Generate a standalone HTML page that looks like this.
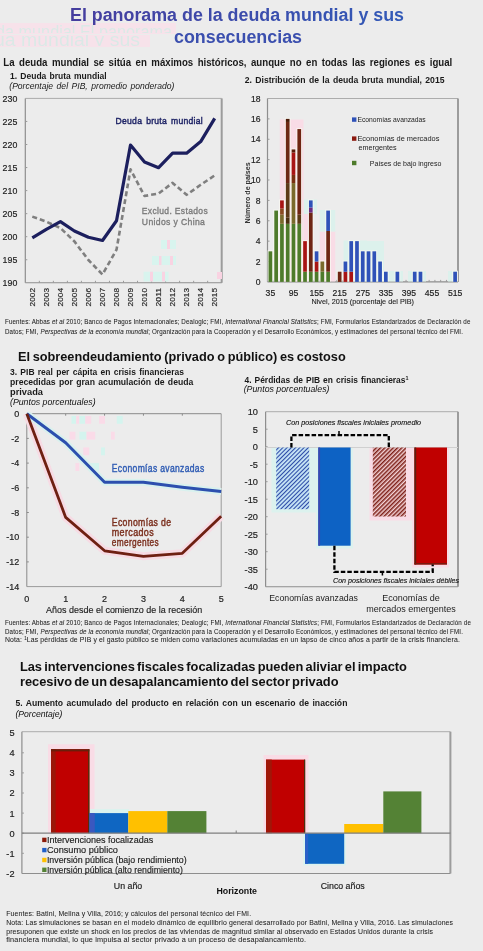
<!DOCTYPE html><html><head><meta charset="utf-8"><style>
html,body{margin:0;padding:0;background:#ececec;width:483px;height:951px;overflow:hidden}
svg{display:block;font-family:"Liberation Sans", sans-serif;filter:blur(0.3px)}
</style></head><body>
<svg width="483" height="951" viewBox="0 0 483 951">
<defs>
<linearGradient id="tg" x1="0" x2="1" y1="0" y2="0"><stop offset="0" stop-color="#463d9e"/><stop offset="1" stop-color="#325ab8"/></linearGradient>
<pattern id="hb" patternUnits="userSpaceOnUse" width="3" height="3" patternTransform="rotate(45)"><rect width="3" height="3" fill="#c6e4f6"/><rect width="1.05" height="3" fill="#2a48a6"/></pattern>
<pattern id="hr" patternUnits="userSpaceOnUse" width="3" height="3" patternTransform="rotate(45)"><rect width="3" height="3" fill="#f3d2d6"/><rect width="1.5" height="3" fill="#7e2018"/></pattern>
</defs>
<rect width="483" height="951" fill="#ececec"/>

<clipPath id="gc1"><rect x="0" y="24" width="180" height="9"/></clipPath><clipPath id="gc2"><rect x="0" y="35" width="180" height="11"/></clipPath>
<rect x="0" y="23" width="176" height="11" fill="#f7e2ea"/><rect x="0" y="35" width="150" height="12" fill="#f7e2ea"/>
<g clip-path="url(#gc1)" opacity="0.6">
<text x="-4" y="38" font-size="17.5" fill="#c8efe5" font-weight="normal" font-style="normal" text-anchor="start" textLength="176" lengthAdjust="spacingAndGlyphs" >da mundial El panorama</text>
</g><g clip-path="url(#gc2)" opacity="0.6">
<text x="-6" y="46" font-size="17.5" fill="#c8efe5" font-weight="normal" font-style="normal" text-anchor="start" textLength="146" lengthAdjust="spacingAndGlyphs" >ua mundial y sus</text>
</g>
<text x="70" y="21" font-size="17.5" fill="url(#tg)" font-weight="bold" font-style="normal" text-anchor="start" textLength="334" lengthAdjust="spacingAndGlyphs" >El panorama de la deuda mundial y sus</text>
<text x="174" y="42.5" font-size="17.5" fill="#3b4fae" font-weight="bold" font-style="normal" text-anchor="start" textLength="128" lengthAdjust="spacingAndGlyphs" >consecuencias</text>
<text x="3.3" y="65.6" font-size="10" fill="#1a1a1a" font-weight="bold" font-style="normal" text-anchor="start" textLength="449" lengthAdjust="spacingAndGlyphs" word-spacing="1.8">La deuda mundial se sitúa en máximos históricos, aunque no en todas las regiones es igual</text>
<text x="10" y="79.1" font-size="9.4" fill="#1a1a1a" font-weight="bold" font-style="normal" text-anchor="start" textLength="96.6" lengthAdjust="spacingAndGlyphs" word-spacing="1">1. Deuda bruta mundial</text>
<text x="9.3" y="89.3" font-size="9" fill="#1a1a1a" font-weight="normal" font-style="italic" text-anchor="start" textLength="165" lengthAdjust="spacingAndGlyphs" word-spacing="1.2">(Porcentaje del PIB, promedio ponderado)</text>
<line x1="25.3" y1="98.4" x2="221.7" y2="98.4" stroke="#acacac" stroke-width="1"/>
<line x1="221.7" y1="98.4" x2="221.7" y2="282.8" stroke="#9c9c9c" stroke-width="2"/>
<line x1="25.3" y1="282.8" x2="221.7" y2="282.8" stroke="#8e8e8e" stroke-width="1.1"/>
<line x1="25.3" y1="98.4" x2="25.3" y2="282.8" stroke="#8e8e8e" stroke-width="1.2"/>
<text x="17.3" y="102.0" font-size="8.8" fill="#222" font-weight="normal" font-style="normal" text-anchor="end" stroke="#222" stroke-width="0.18">230</text>
<text x="17.3" y="125.05" font-size="8.8" fill="#222" font-weight="normal" font-style="normal" text-anchor="end" stroke="#222" stroke-width="0.18">225</text>
<line x1="25.3" y1="121.45" x2="27.3" y2="121.45" stroke="#9a9a9a" stroke-width="1"/>
<text x="17.3" y="148.1" font-size="8.8" fill="#222" font-weight="normal" font-style="normal" text-anchor="end" stroke="#222" stroke-width="0.18">220</text>
<line x1="25.3" y1="144.5" x2="27.3" y2="144.5" stroke="#9a9a9a" stroke-width="1"/>
<text x="17.3" y="171.15" font-size="8.8" fill="#222" font-weight="normal" font-style="normal" text-anchor="end" stroke="#222" stroke-width="0.18">215</text>
<line x1="25.3" y1="167.55" x2="27.3" y2="167.55" stroke="#9a9a9a" stroke-width="1"/>
<text x="17.3" y="194.20000000000002" font-size="8.8" fill="#222" font-weight="normal" font-style="normal" text-anchor="end" stroke="#222" stroke-width="0.18">210</text>
<line x1="25.3" y1="190.60000000000002" x2="27.3" y2="190.60000000000002" stroke="#9a9a9a" stroke-width="1"/>
<text x="17.3" y="217.25" font-size="8.8" fill="#222" font-weight="normal" font-style="normal" text-anchor="end" stroke="#222" stroke-width="0.18">205</text>
<line x1="25.3" y1="213.65" x2="27.3" y2="213.65" stroke="#9a9a9a" stroke-width="1"/>
<text x="17.3" y="240.3" font-size="8.8" fill="#222" font-weight="normal" font-style="normal" text-anchor="end" stroke="#222" stroke-width="0.18">200</text>
<line x1="25.3" y1="236.70000000000002" x2="27.3" y2="236.70000000000002" stroke="#9a9a9a" stroke-width="1"/>
<text x="17.3" y="263.35" font-size="8.8" fill="#222" font-weight="normal" font-style="normal" text-anchor="end" stroke="#222" stroke-width="0.18">195</text>
<line x1="25.3" y1="259.75" x2="27.3" y2="259.75" stroke="#9a9a9a" stroke-width="1"/>
<text x="17.3" y="286.40000000000003" font-size="8.8" fill="#222" font-weight="normal" font-style="normal" text-anchor="end" stroke="#222" stroke-width="0.18">190</text>
<line x1="39.32857142857143" y1="282.8" x2="39.32857142857143" y2="280.8" stroke="#9a9a9a" stroke-width="1"/>
<line x1="53.357142857142854" y1="282.8" x2="53.357142857142854" y2="280.8" stroke="#9a9a9a" stroke-width="1"/>
<line x1="67.38571428571429" y1="282.8" x2="67.38571428571429" y2="280.8" stroke="#9a9a9a" stroke-width="1"/>
<line x1="81.41428571428571" y1="282.8" x2="81.41428571428571" y2="280.8" stroke="#9a9a9a" stroke-width="1"/>
<line x1="95.44285714285714" y1="282.8" x2="95.44285714285714" y2="280.8" stroke="#9a9a9a" stroke-width="1"/>
<line x1="109.47142857142856" y1="282.8" x2="109.47142857142856" y2="280.8" stroke="#9a9a9a" stroke-width="1"/>
<line x1="123.49999999999999" y1="282.8" x2="123.49999999999999" y2="280.8" stroke="#9a9a9a" stroke-width="1"/>
<line x1="137.5285714285714" y1="282.8" x2="137.5285714285714" y2="280.8" stroke="#9a9a9a" stroke-width="1"/>
<line x1="151.55714285714285" y1="282.8" x2="151.55714285714285" y2="280.8" stroke="#9a9a9a" stroke-width="1"/>
<line x1="165.5857142857143" y1="282.8" x2="165.5857142857143" y2="280.8" stroke="#9a9a9a" stroke-width="1"/>
<line x1="179.6142857142857" y1="282.8" x2="179.6142857142857" y2="280.8" stroke="#9a9a9a" stroke-width="1"/>
<line x1="193.64285714285714" y1="282.8" x2="193.64285714285714" y2="280.8" stroke="#9a9a9a" stroke-width="1"/>
<line x1="207.67142857142855" y1="282.8" x2="207.67142857142855" y2="280.8" stroke="#9a9a9a" stroke-width="1"/>
<text transform="translate(34.614285714285714,288) rotate(-90)" font-size="8.0" fill="#222" stroke="#222" stroke-width="0.15" text-anchor="end" textLength="18.4" lengthAdjust="spacingAndGlyphs">2002</text>
<text transform="translate(48.64285714285714,288) rotate(-90)" font-size="8.0" fill="#222" stroke="#222" stroke-width="0.15" text-anchor="end" textLength="18.4" lengthAdjust="spacingAndGlyphs">2003</text>
<text transform="translate(62.671428571428564,288) rotate(-90)" font-size="8.0" fill="#222" stroke="#222" stroke-width="0.15" text-anchor="end" textLength="18.4" lengthAdjust="spacingAndGlyphs">2004</text>
<text transform="translate(76.69999999999999,288) rotate(-90)" font-size="8.0" fill="#222" stroke="#222" stroke-width="0.15" text-anchor="end" textLength="18.4" lengthAdjust="spacingAndGlyphs">2005</text>
<text transform="translate(90.72857142857141,288) rotate(-90)" font-size="8.0" fill="#222" stroke="#222" stroke-width="0.15" text-anchor="end" textLength="18.4" lengthAdjust="spacingAndGlyphs">2006</text>
<text transform="translate(104.75714285714284,288) rotate(-90)" font-size="8.0" fill="#222" stroke="#222" stroke-width="0.15" text-anchor="end" textLength="18.4" lengthAdjust="spacingAndGlyphs">2007</text>
<text transform="translate(118.78571428571426,288) rotate(-90)" font-size="8.0" fill="#222" stroke="#222" stroke-width="0.15" text-anchor="end" textLength="18.4" lengthAdjust="spacingAndGlyphs">2008</text>
<text transform="translate(132.81428571428572,288) rotate(-90)" font-size="8.0" fill="#222" stroke="#222" stroke-width="0.15" text-anchor="end" textLength="18.4" lengthAdjust="spacingAndGlyphs">2009</text>
<text transform="translate(146.84285714285716,288) rotate(-90)" font-size="8.0" fill="#222" stroke="#222" stroke-width="0.15" text-anchor="end" textLength="18.4" lengthAdjust="spacingAndGlyphs">2010</text>
<text transform="translate(160.87142857142857,288) rotate(-90)" font-size="8.0" fill="#222" stroke="#222" stroke-width="0.15" text-anchor="end" textLength="18.4" lengthAdjust="spacingAndGlyphs">2011</text>
<text transform="translate(174.9,288) rotate(-90)" font-size="8.0" fill="#222" stroke="#222" stroke-width="0.15" text-anchor="end" textLength="18.4" lengthAdjust="spacingAndGlyphs">2012</text>
<text transform="translate(188.92857142857142,288) rotate(-90)" font-size="8.0" fill="#222" stroke="#222" stroke-width="0.15" text-anchor="end" textLength="18.4" lengthAdjust="spacingAndGlyphs">2013</text>
<text transform="translate(202.95714285714286,288) rotate(-90)" font-size="8.0" fill="#222" stroke="#222" stroke-width="0.15" text-anchor="end" textLength="18.4" lengthAdjust="spacingAndGlyphs">2014</text>
<text transform="translate(216.9857142857143,288) rotate(-90)" font-size="8.0" fill="#222" stroke="#222" stroke-width="0.15" text-anchor="end" textLength="18.4" lengthAdjust="spacingAndGlyphs">2015</text>
<rect x="161" y="240" width="15.0" height="9.0" fill="#d8f4ee"/>
<rect x="167" y="240" width="3.0" height="9.0" fill="#f9d3e2"/>
<rect x="152" y="256" width="24.0" height="9.0" fill="#d8f4ee"/>
<rect x="159" y="256" width="2.5" height="9.0" fill="#f9d3e2"/>
<rect x="170" y="256" width="3.0" height="9.0" fill="#f9d3e2"/>
<rect x="143.6" y="271.7" width="24.9" height="9.8" fill="#d8f4ee"/>
<rect x="150" y="271.7" width="3.0" height="9.8" fill="#f9d3e2"/>
<rect x="162" y="271.7" width="3.0" height="9.8" fill="#f9d3e2"/>
<rect x="217" y="272" width="5.0" height="7.0" fill="#f9d3e2"/>
<polyline points="32.3,216.6 46.3,221.7 60.4,228 74.4,241.4 88.4,260 102.5,274.5 116.5,249.7 130.5,169.4 144.5,196 158.6,193.5 172.6,182.9 186.6,194.8 200.7,184.8 214.7,175.4" fill="none" stroke="#7f7f7f" stroke-width="2.6" stroke-dasharray="5,3" stroke-linejoin="round"/>
<polyline points="32.3,237.9 46.3,229.4 60.4,221.7 74.4,231 88.4,237.3 102.5,240.5 116.5,220.8 130.5,145 144.5,161.9 158.6,167.7 172.6,153.2 186.6,153.2 200.7,141.6 214.7,118.4" fill="none" stroke="#1c1f5e" stroke-width="3.2" stroke-linejoin="round"/>
<text x="115.6" y="124" font-size="9.6" fill="#1f2466" font-weight="normal" font-style="normal" text-anchor="start" textLength="87.3" lengthAdjust="spacingAndGlyphs" stroke="#1f2466" stroke-width="0.45" letter-spacing="0.3" word-spacing="1.5">Deuda bruta mundial</text>
<text x="141.8" y="214.2" font-size="9.8" fill="#7a7a7a" font-weight="normal" font-style="normal" text-anchor="start" textLength="66.2" lengthAdjust="spacingAndGlyphs" stroke="#7a7a7a" stroke-width="0.35" letter-spacing="0.4">Exclud. Estados</text>
<text x="141.8" y="224.6" font-size="9.8" fill="#7a7a7a" font-weight="normal" font-style="normal" text-anchor="start" textLength="63.4" lengthAdjust="spacingAndGlyphs" stroke="#7a7a7a" stroke-width="0.35" letter-spacing="0.4">Unidos y China</text>
<text x="244.8" y="82.8" font-size="9.3" fill="#1a1a1a" font-weight="bold" font-style="normal" text-anchor="start" textLength="199.7" lengthAdjust="spacingAndGlyphs" word-spacing="1">2. Distribución de la deuda bruta mundial, 2015</text>
<line x1="267.5" y1="98.5" x2="458" y2="98.5" stroke="#acacac" stroke-width="1"/>
<line x1="458" y1="98.5" x2="458" y2="281.9" stroke="#9c9c9c" stroke-width="2"/>
<line x1="267.5" y1="281.9" x2="458" y2="281.9" stroke="#8e8e8e" stroke-width="1.1"/>
<line x1="267.5" y1="98.5" x2="267.5" y2="281.9" stroke="#8e8e8e" stroke-width="1.2"/>
<text x="260.5" y="285.09999999999997" font-size="8.6" fill="#222" font-weight="normal" font-style="normal" text-anchor="end" stroke="#222" stroke-width="0.18">0</text>
<text x="260.5" y="264.7222222222222" font-size="8.6" fill="#222" font-weight="normal" font-style="normal" text-anchor="end" stroke="#222" stroke-width="0.18">2</text>
<line x1="267.5" y1="261.5222222222222" x2="269.5" y2="261.5222222222222" stroke="#9a9a9a" stroke-width="1"/>
<text x="260.5" y="244.3444444444444" font-size="8.6" fill="#222" font-weight="normal" font-style="normal" text-anchor="end" stroke="#222" stroke-width="0.18">4</text>
<line x1="267.5" y1="241.14444444444442" x2="269.5" y2="241.14444444444442" stroke="#9a9a9a" stroke-width="1"/>
<text x="260.5" y="223.96666666666664" font-size="8.6" fill="#222" font-weight="normal" font-style="normal" text-anchor="end" stroke="#222" stroke-width="0.18">6</text>
<line x1="267.5" y1="220.76666666666665" x2="269.5" y2="220.76666666666665" stroke="#9a9a9a" stroke-width="1"/>
<text x="260.5" y="203.58888888888885" font-size="8.6" fill="#222" font-weight="normal" font-style="normal" text-anchor="end" stroke="#222" stroke-width="0.18">8</text>
<line x1="267.5" y1="200.38888888888886" x2="269.5" y2="200.38888888888886" stroke="#9a9a9a" stroke-width="1"/>
<text x="260.5" y="183.21111111111108" font-size="8.6" fill="#222" font-weight="normal" font-style="normal" text-anchor="end" stroke="#222" stroke-width="0.18">10</text>
<line x1="267.5" y1="180.0111111111111" x2="269.5" y2="180.0111111111111" stroke="#9a9a9a" stroke-width="1"/>
<text x="260.5" y="162.83333333333331" font-size="8.6" fill="#222" font-weight="normal" font-style="normal" text-anchor="end" stroke="#222" stroke-width="0.18">12</text>
<line x1="267.5" y1="159.63333333333333" x2="269.5" y2="159.63333333333333" stroke="#9a9a9a" stroke-width="1"/>
<text x="260.5" y="142.45555555555552" font-size="8.6" fill="#222" font-weight="normal" font-style="normal" text-anchor="end" stroke="#222" stroke-width="0.18">14</text>
<line x1="267.5" y1="139.25555555555553" x2="269.5" y2="139.25555555555553" stroke="#9a9a9a" stroke-width="1"/>
<text x="260.5" y="122.07777777777777" font-size="8.6" fill="#222" font-weight="normal" font-style="normal" text-anchor="end" stroke="#222" stroke-width="0.18">16</text>
<line x1="267.5" y1="118.87777777777777" x2="269.5" y2="118.87777777777777" stroke="#9a9a9a" stroke-width="1"/>
<text x="260.5" y="101.7" font-size="8.6" fill="#222" font-weight="normal" font-style="normal" text-anchor="end" stroke="#222" stroke-width="0.18">18</text>
<line x1="273.27" y1="281.9" x2="273.27" y2="279.9" stroke="#9a9a9a" stroke-width="1"/>
<line x1="279.05" y1="281.9" x2="279.05" y2="279.9" stroke="#9a9a9a" stroke-width="1"/>
<line x1="284.82" y1="281.9" x2="284.82" y2="279.9" stroke="#9a9a9a" stroke-width="1"/>
<line x1="290.59" y1="281.9" x2="290.59" y2="279.9" stroke="#9a9a9a" stroke-width="1"/>
<line x1="296.36" y1="281.9" x2="296.36" y2="279.9" stroke="#9a9a9a" stroke-width="1"/>
<line x1="302.14" y1="281.9" x2="302.14" y2="279.9" stroke="#9a9a9a" stroke-width="1"/>
<line x1="307.91" y1="281.9" x2="307.91" y2="279.9" stroke="#9a9a9a" stroke-width="1"/>
<line x1="313.68" y1="281.9" x2="313.68" y2="279.9" stroke="#9a9a9a" stroke-width="1"/>
<line x1="319.45" y1="281.9" x2="319.45" y2="279.9" stroke="#9a9a9a" stroke-width="1"/>
<line x1="325.23" y1="281.9" x2="325.23" y2="279.9" stroke="#9a9a9a" stroke-width="1"/>
<line x1="331.00" y1="281.9" x2="331.00" y2="279.9" stroke="#9a9a9a" stroke-width="1"/>
<line x1="336.77" y1="281.9" x2="336.77" y2="279.9" stroke="#9a9a9a" stroke-width="1"/>
<line x1="342.55" y1="281.9" x2="342.55" y2="279.9" stroke="#9a9a9a" stroke-width="1"/>
<line x1="348.32" y1="281.9" x2="348.32" y2="279.9" stroke="#9a9a9a" stroke-width="1"/>
<line x1="354.09" y1="281.9" x2="354.09" y2="279.9" stroke="#9a9a9a" stroke-width="1"/>
<line x1="359.86" y1="281.9" x2="359.86" y2="279.9" stroke="#9a9a9a" stroke-width="1"/>
<line x1="365.64" y1="281.9" x2="365.64" y2="279.9" stroke="#9a9a9a" stroke-width="1"/>
<line x1="371.41" y1="281.9" x2="371.41" y2="279.9" stroke="#9a9a9a" stroke-width="1"/>
<line x1="377.18" y1="281.9" x2="377.18" y2="279.9" stroke="#9a9a9a" stroke-width="1"/>
<line x1="382.95" y1="281.9" x2="382.95" y2="279.9" stroke="#9a9a9a" stroke-width="1"/>
<line x1="388.73" y1="281.9" x2="388.73" y2="279.9" stroke="#9a9a9a" stroke-width="1"/>
<line x1="394.50" y1="281.9" x2="394.50" y2="279.9" stroke="#9a9a9a" stroke-width="1"/>
<line x1="400.27" y1="281.9" x2="400.27" y2="279.9" stroke="#9a9a9a" stroke-width="1"/>
<line x1="406.05" y1="281.9" x2="406.05" y2="279.9" stroke="#9a9a9a" stroke-width="1"/>
<line x1="411.82" y1="281.9" x2="411.82" y2="279.9" stroke="#9a9a9a" stroke-width="1"/>
<line x1="417.59" y1="281.9" x2="417.59" y2="279.9" stroke="#9a9a9a" stroke-width="1"/>
<line x1="423.36" y1="281.9" x2="423.36" y2="279.9" stroke="#9a9a9a" stroke-width="1"/>
<line x1="429.14" y1="281.9" x2="429.14" y2="279.9" stroke="#9a9a9a" stroke-width="1"/>
<line x1="434.91" y1="281.9" x2="434.91" y2="279.9" stroke="#9a9a9a" stroke-width="1"/>
<line x1="440.68" y1="281.9" x2="440.68" y2="279.9" stroke="#9a9a9a" stroke-width="1"/>
<line x1="446.45" y1="281.9" x2="446.45" y2="279.9" stroke="#9a9a9a" stroke-width="1"/>
<line x1="452.23" y1="281.9" x2="452.23" y2="279.9" stroke="#9a9a9a" stroke-width="1"/>
<rect x="279.8" y="119.5" width="23.7" height="162.0" fill="#f9dce6"/>
<rect x="303.9" y="214" width="4.7" height="67.5" fill="#f9dce6"/>
<rect x="304" y="199.5" width="13.0" height="14.5" fill="#dcf1ec"/>
<rect x="319.8" y="231.5" width="15.5" height="50.0" fill="#f9dce6"/>
<rect x="319.8" y="210" width="15.5" height="21.5" fill="#dcf1ec"/>
<rect x="343.5" y="240.5" width="23.5" height="41.0" fill="#dcf1ec"/>
<rect x="367" y="241" width="17.0" height="40.5" fill="#dcf1ec"/>
<rect x="388" y="271" width="15.0" height="10.5" fill="#dcf1ec"/>
<rect x="408" y="271" width="18.0" height="10.5" fill="#dcf1ec"/>
<rect x="448" y="271" width="9.5" height="10.5" fill="#dcf1ec"/>
<rect x="267.49" y="250.33" width="5.8" height="31.07" fill="#f8faf2" opacity="0.75"/>
<rect x="273.26" y="209.58" width="5.8" height="71.82" fill="#f8faf2" opacity="0.75"/>
<rect x="279.03" y="199.39" width="5.8" height="82.01" fill="#f8faf2" opacity="0.75"/>
<rect x="284.80" y="117.88" width="5.8" height="163.52" fill="#f8faf2" opacity="0.75"/>
<rect x="290.58" y="148.44" width="5.8" height="132.96" fill="#f8faf2" opacity="0.75"/>
<rect x="296.35" y="128.07" width="5.8" height="153.33" fill="#f8faf2" opacity="0.75"/>
<rect x="302.12" y="240.14" width="5.8" height="41.26" fill="#f8faf2" opacity="0.75"/>
<rect x="307.90" y="199.39" width="5.8" height="82.01" fill="#f8faf2" opacity="0.75"/>
<rect x="313.67" y="250.33" width="5.8" height="31.07" fill="#f8faf2" opacity="0.75"/>
<rect x="319.44" y="260.52" width="5.8" height="20.88" fill="#f8faf2" opacity="0.75"/>
<rect x="325.21" y="209.58" width="5.8" height="71.82" fill="#f8faf2" opacity="0.75"/>
<rect x="336.76" y="270.71" width="5.8" height="10.69" fill="#f8faf2" opacity="0.75"/>
<rect x="342.53" y="260.52" width="5.8" height="20.88" fill="#f8faf2" opacity="0.75"/>
<rect x="348.30" y="240.14" width="5.8" height="41.26" fill="#f8faf2" opacity="0.75"/>
<rect x="354.08" y="240.14" width="5.8" height="41.26" fill="#f8faf2" opacity="0.75"/>
<rect x="359.85" y="250.33" width="5.8" height="31.07" fill="#f8faf2" opacity="0.75"/>
<rect x="365.62" y="250.33" width="5.8" height="31.07" fill="#f8faf2" opacity="0.75"/>
<rect x="371.40" y="250.33" width="5.8" height="31.07" fill="#f8faf2" opacity="0.75"/>
<rect x="377.17" y="260.52" width="5.8" height="20.88" fill="#f8faf2" opacity="0.75"/>
<rect x="382.94" y="270.71" width="5.8" height="10.69" fill="#f8faf2" opacity="0.75"/>
<rect x="394.49" y="270.71" width="5.8" height="10.69" fill="#f8faf2" opacity="0.75"/>
<rect x="411.80" y="270.71" width="5.8" height="10.69" fill="#f8faf2" opacity="0.75"/>
<rect x="417.58" y="270.71" width="5.8" height="10.69" fill="#f8faf2" opacity="0.75"/>
<rect x="452.21" y="270.71" width="5.8" height="10.69" fill="#f8faf2" opacity="0.75"/>
<rect x="268.54" y="251.33" width="3.7" height="30.57" fill="#4e7b2b"/>
<rect x="274.31" y="210.58" width="3.7" height="71.32" fill="#4e7b2b"/>
<rect x="280.08" y="223.82" width="3.7" height="58.08" fill="#4e7b2b"/>
<rect x="280.08" y="214.65" width="3.7" height="9.17" fill="#7a6a2c"/>
<rect x="280.08" y="208.54" width="3.7" height="6.11" fill="#8a4a20"/>
<rect x="280.08" y="200.39" width="3.7" height="8.15" fill="#a81414"/>
<rect x="285.85" y="223.82" width="3.7" height="58.08" fill="#4e7b2b"/>
<rect x="285.85" y="217.71" width="3.7" height="6.11" fill="#4a3010"/>
<rect x="285.85" y="183.07" width="3.7" height="34.64" fill="#5e3a18"/>
<rect x="285.85" y="121.93" width="3.7" height="61.13" fill="#6e2614"/>
<rect x="285.85" y="118.88" width="3.7" height="3.06" fill="#4a1a08"/>
<rect x="291.63" y="223.82" width="3.7" height="58.08" fill="#4e7b2b"/>
<rect x="291.63" y="183.07" width="3.7" height="40.76" fill="#7a6a2c"/>
<rect x="291.63" y="174.92" width="3.7" height="8.15" fill="#7a3010"/>
<rect x="291.63" y="152.50" width="3.7" height="22.42" fill="#a81414"/>
<rect x="291.63" y="149.44" width="3.7" height="3.06" fill="#5a1a08"/>
<rect x="297.40" y="223.82" width="3.7" height="58.08" fill="#4e7b2b"/>
<rect x="297.40" y="214.65" width="3.7" height="9.17" fill="#5a3a14"/>
<rect x="297.40" y="129.07" width="3.7" height="85.59" fill="#6e2412"/>
<rect x="303.17" y="271.71" width="3.7" height="10.19" fill="#4e7b2b"/>
<rect x="303.17" y="241.14" width="3.7" height="30.57" fill="#a81414"/>
<rect x="308.95" y="271.71" width="3.7" height="10.19" fill="#4e7b2b"/>
<rect x="308.95" y="212.62" width="3.7" height="59.10" fill="#6e2614"/>
<rect x="308.95" y="207.52" width="3.7" height="5.09" fill="#6a2a80"/>
<rect x="308.95" y="200.39" width="3.7" height="7.13" fill="#2f52b8"/>
<rect x="314.72" y="271.71" width="3.7" height="10.19" fill="#4e7b2b"/>
<rect x="314.72" y="261.52" width="3.7" height="10.19" fill="#a81414"/>
<rect x="314.72" y="251.33" width="3.7" height="10.19" fill="#2f52b8"/>
<rect x="320.49" y="271.71" width="3.7" height="10.19" fill="#4e7b2b"/>
<rect x="320.49" y="261.52" width="3.7" height="10.19" fill="#7a6a2c"/>
<rect x="326.26" y="271.71" width="3.7" height="10.19" fill="#4e7b2b"/>
<rect x="326.26" y="230.96" width="3.7" height="40.76" fill="#6e2614"/>
<rect x="326.26" y="210.58" width="3.7" height="20.38" fill="#2f52b8"/>
<rect x="337.81" y="271.71" width="3.7" height="10.19" fill="#6e2614"/>
<rect x="343.58" y="271.71" width="3.7" height="10.19" fill="#a81414"/>
<rect x="343.58" y="261.52" width="3.7" height="10.19" fill="#2f52b8"/>
<rect x="349.35" y="271.71" width="3.7" height="10.19" fill="#a81414"/>
<rect x="349.35" y="241.14" width="3.7" height="30.57" fill="#2f52b8"/>
<rect x="355.13" y="241.14" width="3.7" height="40.76" fill="#2f52b8"/>
<rect x="360.90" y="251.33" width="3.7" height="30.57" fill="#2f52b8"/>
<rect x="366.67" y="251.33" width="3.7" height="30.57" fill="#2f52b8"/>
<rect x="372.45" y="251.33" width="3.7" height="30.57" fill="#2f52b8"/>
<rect x="378.22" y="261.52" width="3.7" height="20.38" fill="#2f52b8"/>
<rect x="383.99" y="271.71" width="3.7" height="10.19" fill="#2f52b8"/>
<rect x="395.54" y="271.71" width="3.7" height="10.19" fill="#2f52b8"/>
<rect x="412.85" y="271.71" width="3.7" height="10.19" fill="#2f52b8"/>
<rect x="418.63" y="271.71" width="3.7" height="10.19" fill="#2f52b8"/>
<rect x="453.26" y="271.71" width="3.7" height="10.19" fill="#2f52b8"/>
<text x="270.4" y="295.5" font-size="8.6" fill="#222" font-weight="normal" font-style="normal" text-anchor="middle" stroke="#222" stroke-width="0.18">35</text>
<text x="293.5" y="295.5" font-size="8.6" fill="#222" font-weight="normal" font-style="normal" text-anchor="middle" stroke="#222" stroke-width="0.18">95</text>
<text x="316.6" y="295.5" font-size="8.6" fill="#222" font-weight="normal" font-style="normal" text-anchor="middle" stroke="#222" stroke-width="0.18">155</text>
<text x="339.7" y="295.5" font-size="8.6" fill="#222" font-weight="normal" font-style="normal" text-anchor="middle" stroke="#222" stroke-width="0.18">215</text>
<text x="362.8" y="295.5" font-size="8.6" fill="#222" font-weight="normal" font-style="normal" text-anchor="middle" stroke="#222" stroke-width="0.18">275</text>
<text x="385.8" y="295.5" font-size="8.6" fill="#222" font-weight="normal" font-style="normal" text-anchor="middle" stroke="#222" stroke-width="0.18">335</text>
<text x="408.9" y="295.5" font-size="8.6" fill="#222" font-weight="normal" font-style="normal" text-anchor="middle" stroke="#222" stroke-width="0.18">395</text>
<text x="432.0" y="295.5" font-size="8.6" fill="#222" font-weight="normal" font-style="normal" text-anchor="middle" stroke="#222" stroke-width="0.18">455</text>
<text x="455.1" y="295.5" font-size="8.6" fill="#222" font-weight="normal" font-style="normal" text-anchor="middle" stroke="#222" stroke-width="0.18">515</text>
<text x="311.5" y="304" font-size="7.6" fill="#222" font-weight="normal" font-style="normal" text-anchor="start" textLength="102.5" lengthAdjust="spacingAndGlyphs" stroke="#222" stroke-width="0.1">Nivel, 2015 (porcentaje del PIB)</text>
<text transform="translate(249.9,192.9) rotate(-90)" font-size="7" font-weight="bold" fill="#333" text-anchor="middle" textLength="61" lengthAdjust="spacingAndGlyphs">Número de países</text>
<rect x="352" y="117.39999999999999" width="4.4" height="4.4" fill="#2f52b8"/>
<rect x="352" y="136.4" width="4.4" height="4.4" fill="#8b1a10"/>
<rect x="352" y="160.8" width="4.4" height="4.4" fill="#4e7b2b"/>
<text x="357.4" y="122" font-size="7" fill="#222" font-weight="normal" font-style="normal" text-anchor="start" textLength="68.3" lengthAdjust="spacingAndGlyphs" >Economías avanzadas</text>
<text x="357.4" y="141" font-size="7" fill="#222" font-weight="normal" font-style="normal" text-anchor="start" textLength="82" lengthAdjust="spacingAndGlyphs" >Economías de mercados</text>
<text x="358.6" y="149.8" font-size="7" fill="#222" font-weight="normal" font-style="normal" text-anchor="start" textLength="38" lengthAdjust="spacingAndGlyphs" >emergentes</text>
<text x="369.8" y="165.5" font-size="7" fill="#222" font-weight="normal" font-style="normal" text-anchor="start" textLength="71.6" lengthAdjust="spacingAndGlyphs" >Países de bajo ingreso</text>
<text x="5" y="324.4" font-size="7" fill="#222" font-weight="normal" font-style="normal" text-anchor="start" textLength="465.5" lengthAdjust="spacingAndGlyphs" stroke="#222" stroke-width="0.05" letter-spacing="0.15">Fuentes: Abbas <tspan font-style="italic">et al</tspan> 2010; Banco de Pagos Internacionales; Dealogic; FMI, <tspan font-style="italic">International Financial Statistics</tspan>; FMI, Formularios Estandarizados de Declaración de</text>
<text x="5" y="333.8" font-size="7" fill="#222" font-weight="normal" font-style="normal" text-anchor="start" textLength="458" lengthAdjust="spacingAndGlyphs" stroke="#222" stroke-width="0.05" letter-spacing="0.15">Datos; FMI, <tspan font-style="italic">Perspectivas de la economía mundial</tspan>; Organización para la Cooperación y el Desarrollo Económicos, y estimaciones del personal técnico del FMI.</text>
<text x="17.9" y="361.1" font-size="12.5" fill="#111" font-weight="bold" font-style="normal" text-anchor="start" textLength="327.8" lengthAdjust="spacingAndGlyphs" word-spacing="-0.8">El sobreendeudamiento (privado o público) es costoso</text>
<text x="10" y="374.8" font-size="9.1" fill="#1a1a1a" font-weight="bold" font-style="normal" text-anchor="start" textLength="174" lengthAdjust="spacingAndGlyphs" word-spacing="1">3. PIB real per cápita en crisis financieras</text>
<text x="10" y="384.7" font-size="9.1" fill="#1a1a1a" font-weight="bold" font-style="normal" text-anchor="start" textLength="183.3" lengthAdjust="spacingAndGlyphs" word-spacing="1">precedidas por gran acumulación de deuda</text>
<text x="10" y="394.7" font-size="9.1" fill="#1a1a1a" font-weight="bold" font-style="normal" text-anchor="start" textLength="33" lengthAdjust="spacingAndGlyphs" >privada</text>
<text x="10" y="405" font-size="8.4" fill="#111" font-weight="normal" font-style="italic" text-anchor="start" textLength="85.6" lengthAdjust="spacingAndGlyphs" >(Puntos porcentuales)</text>
<line x1="221.2" y1="413.7" x2="221.2" y2="586.6" stroke="#9a9a9a" stroke-width="1"/>
<line x1="26.8" y1="586.6" x2="221.2" y2="586.6" stroke="#9a9a9a" stroke-width="1"/>
<line x1="26.8" y1="413.7" x2="221.2" y2="413.7" stroke="#8a8a8a" stroke-width="1"/>
<line x1="26.8" y1="413.7" x2="26.8" y2="586.6" stroke="#8a8a8a" stroke-width="1"/>
<text x="19.2" y="416.9" font-size="9" fill="#222" font-weight="normal" font-style="normal" text-anchor="end" stroke="#222" stroke-width="0.18">0</text>
<text x="19.2" y="441.59999999999997" font-size="9" fill="#222" font-weight="normal" font-style="normal" text-anchor="end" stroke="#222" stroke-width="0.18">-2</text>
<line x1="26.8" y1="438.4" x2="28.8" y2="438.4" stroke="#8a8a8a" stroke-width="1"/>
<text x="19.2" y="466.3" font-size="9" fill="#222" font-weight="normal" font-style="normal" text-anchor="end" stroke="#222" stroke-width="0.18">-4</text>
<line x1="26.8" y1="463.1" x2="28.8" y2="463.1" stroke="#8a8a8a" stroke-width="1"/>
<text x="19.2" y="491.0" font-size="9" fill="#222" font-weight="normal" font-style="normal" text-anchor="end" stroke="#222" stroke-width="0.18">-6</text>
<line x1="26.8" y1="487.8" x2="28.8" y2="487.8" stroke="#8a8a8a" stroke-width="1"/>
<text x="19.2" y="515.7" font-size="9" fill="#222" font-weight="normal" font-style="normal" text-anchor="end" stroke="#222" stroke-width="0.18">-8</text>
<line x1="26.8" y1="512.5" x2="28.8" y2="512.5" stroke="#8a8a8a" stroke-width="1"/>
<text x="19.2" y="540.4000000000001" font-size="9" fill="#222" font-weight="normal" font-style="normal" text-anchor="end" stroke="#222" stroke-width="0.18">-10</text>
<line x1="26.8" y1="537.2" x2="28.8" y2="537.2" stroke="#8a8a8a" stroke-width="1"/>
<text x="19.2" y="565.1000000000001" font-size="9" fill="#222" font-weight="normal" font-style="normal" text-anchor="end" stroke="#222" stroke-width="0.18">-12</text>
<line x1="26.8" y1="561.9000000000001" x2="28.8" y2="561.9000000000001" stroke="#8a8a8a" stroke-width="1"/>
<text x="19.2" y="589.8000000000001" font-size="9" fill="#222" font-weight="normal" font-style="normal" text-anchor="end" stroke="#222" stroke-width="0.18">-14</text>
<text x="26.8" y="601.6" font-size="9" fill="#222" font-weight="normal" font-style="normal" text-anchor="middle" stroke="#222" stroke-width="0.18">0</text>
<text x="65.7" y="601.6" font-size="9" fill="#222" font-weight="normal" font-style="normal" text-anchor="middle" stroke="#222" stroke-width="0.18">1</text>
<line x1="65.67999999999999" y1="413.7" x2="65.67999999999999" y2="415.7" stroke="#8a8a8a" stroke-width="1"/>
<text x="104.6" y="601.6" font-size="9" fill="#222" font-weight="normal" font-style="normal" text-anchor="middle" stroke="#222" stroke-width="0.18">2</text>
<line x1="104.55999999999999" y1="413.7" x2="104.55999999999999" y2="415.7" stroke="#8a8a8a" stroke-width="1"/>
<text x="143.4" y="601.6" font-size="9" fill="#222" font-weight="normal" font-style="normal" text-anchor="middle" stroke="#222" stroke-width="0.18">3</text>
<line x1="143.44" y1="413.7" x2="143.44" y2="415.7" stroke="#8a8a8a" stroke-width="1"/>
<text x="182.3" y="601.6" font-size="9" fill="#222" font-weight="normal" font-style="normal" text-anchor="middle" stroke="#222" stroke-width="0.18">4</text>
<line x1="182.32" y1="413.7" x2="182.32" y2="415.7" stroke="#8a8a8a" stroke-width="1"/>
<text x="221.2" y="601.6" font-size="9" fill="#222" font-weight="normal" font-style="normal" text-anchor="middle" stroke="#222" stroke-width="0.18">5</text>
<rect x="71.5" y="415.9" width="4.7" height="7.9" fill="#d4f4ee"/>
<rect x="76.2" y="415.9" width="3.1" height="7.9" fill="#fadbe8"/>
<rect x="79.4" y="415.9" width="5.9" height="7.9" fill="#d4f4ee"/>
<rect x="85.3" y="415.9" width="5.9" height="7.9" fill="#fadbe8"/>
<rect x="99.1" y="415.9" width="5.9" height="7.9" fill="#fadbe8"/>
<rect x="116.8" y="415.9" width="5.9" height="7.9" fill="#d4f4ee"/>
<rect x="69.5" y="431.7" width="5.9" height="7.9" fill="#fadbe8"/>
<rect x="79.4" y="431.7" width="7.1" height="7.9" fill="#d4f4ee"/>
<rect x="86.5" y="431.7" width="8.7" height="7.9" fill="#fadbe8"/>
<rect x="110.9" y="431.7" width="3.9" height="7.9" fill="#fadbe8"/>
<rect x="83.3" y="447.4" width="5.9" height="7.9" fill="#fadbe8"/>
<rect x="101.0" y="447.4" width="3.9" height="7.9" fill="#d4f4ee"/>
<rect x="75.4" y="463.1" width="3.9" height="7.9" fill="#fadbe8"/>
<rect x="89.2" y="463.1" width="9.8" height="7.9" fill="#d4f4ee"/>
<polyline points="26.8,413.7 65.7,517.4 104.6,550.8 143.4,556.3 182.3,553.3 221.2,516.2" fill="none" stroke="#f7dbe4" stroke-width="8"/>
<polyline points="26.8,413.7 65.7,442.7 104.6,482.2 143.4,482.2 182.3,487.2 221.2,491.5" fill="none" stroke="#d9f1ee" stroke-width="7"/>
<polyline points="26.8,413.7 65.7,442.7 104.6,482.2 143.4,482.2 182.3,487.2 221.2,491.5" fill="none" stroke="#2c4fae" stroke-width="3" stroke-linejoin="round"/>
<polyline points="26.8,413.7 65.7,517.4 104.6,550.8 143.4,556.3 182.3,553.3 221.2,516.2" fill="none" stroke="#6e2012" stroke-width="2.8" stroke-linejoin="round"/>
<text x="111.8" y="471.9" font-size="10.2" fill="#2f5cb4" font-weight="normal" font-style="normal" text-anchor="start" textLength="92.7" lengthAdjust="spacingAndGlyphs" stroke="#2f5cb4" stroke-width="0.4" letter-spacing="0.4">Economías avanzadas</text>
<text x="111.8" y="525.8" font-size="10.2" fill="#7a2e1c" font-weight="normal" font-style="normal" text-anchor="start" textLength="59.6" lengthAdjust="spacingAndGlyphs" stroke="#7a2e1c" stroke-width="0.4" letter-spacing="0.4">Economías de</text>
<text x="111.8" y="535.7" font-size="10.2" fill="#7a2e1c" font-weight="normal" font-style="normal" text-anchor="start" textLength="42.2" lengthAdjust="spacingAndGlyphs" stroke="#7a2e1c" stroke-width="0.4" letter-spacing="0.4">mercados</text>
<text x="111.8" y="545.5" font-size="10.2" fill="#7a2e1c" font-weight="normal" font-style="normal" text-anchor="start" textLength="47.2" lengthAdjust="spacingAndGlyphs" stroke="#7a2e1c" stroke-width="0.4" letter-spacing="0.4">emergentes</text>
<text x="46" y="613" font-size="9.3" fill="#222" font-weight="normal" font-style="normal" text-anchor="start" textLength="156.2" lengthAdjust="spacingAndGlyphs" stroke="#222" stroke-width="0.15">Años desde el comienzo de la recesión</text>
<text x="244.5" y="382.9" font-size="9.2" fill="#1a1a1a" font-weight="bold" font-style="normal" text-anchor="start" textLength="164" lengthAdjust="spacingAndGlyphs" word-spacing="0.8">4. Pérdidas de PIB en crisis financieras<tspan font-size="6" dy="-3">1</tspan></text>
<text x="243.7" y="392.3" font-size="8.6" fill="#111" font-weight="normal" font-style="italic" text-anchor="start" textLength="85.8" lengthAdjust="spacingAndGlyphs" >(Puntos porcentuales)</text>
<line x1="265.6" y1="411.7" x2="458" y2="411.7" stroke="#acacac" stroke-width="1"/>
<line x1="458" y1="411.7" x2="458" y2="586.7" stroke="#9c9c9c" stroke-width="2"/>
<line x1="265.6" y1="586.7" x2="458" y2="586.7" stroke="#8e8e8e" stroke-width="1.1"/>
<line x1="265.6" y1="411.7" x2="265.6" y2="586.7" stroke="#8e8e8e" stroke-width="1.2"/>
<text x="257.9" y="415.4" font-size="9.2" fill="#222" font-weight="normal" font-style="normal" text-anchor="end" stroke="#222" stroke-width="0.18">10</text>
<text x="257.9" y="432.9" font-size="9.2" fill="#222" font-weight="normal" font-style="normal" text-anchor="end" stroke="#222" stroke-width="0.18">5</text>
<line x1="265.6" y1="429.2" x2="267.6" y2="429.2" stroke="#9a9a9a" stroke-width="1"/>
<text x="257.9" y="450.4" font-size="9.2" fill="#222" font-weight="normal" font-style="normal" text-anchor="end" stroke="#222" stroke-width="0.18">0</text>
<line x1="265.6" y1="446.7" x2="267.6" y2="446.7" stroke="#9a9a9a" stroke-width="1"/>
<text x="257.9" y="467.9" font-size="9.2" fill="#222" font-weight="normal" font-style="normal" text-anchor="end" stroke="#222" stroke-width="0.18">-5</text>
<line x1="265.6" y1="464.2" x2="267.6" y2="464.2" stroke="#9a9a9a" stroke-width="1"/>
<text x="257.9" y="485.40000000000003" font-size="9.2" fill="#222" font-weight="normal" font-style="normal" text-anchor="end" stroke="#222" stroke-width="0.18">-10</text>
<line x1="265.6" y1="481.7" x2="267.6" y2="481.7" stroke="#9a9a9a" stroke-width="1"/>
<text x="257.9" y="502.90000000000003" font-size="9.2" fill="#222" font-weight="normal" font-style="normal" text-anchor="end" stroke="#222" stroke-width="0.18">-15</text>
<line x1="265.6" y1="499.2" x2="267.6" y2="499.2" stroke="#9a9a9a" stroke-width="1"/>
<text x="257.9" y="520.4000000000001" font-size="9.2" fill="#222" font-weight="normal" font-style="normal" text-anchor="end" stroke="#222" stroke-width="0.18">-20</text>
<line x1="265.6" y1="516.7" x2="267.6" y2="516.7" stroke="#9a9a9a" stroke-width="1"/>
<text x="257.9" y="537.9000000000001" font-size="9.2" fill="#222" font-weight="normal" font-style="normal" text-anchor="end" stroke="#222" stroke-width="0.18">-25</text>
<line x1="265.6" y1="534.2" x2="267.6" y2="534.2" stroke="#9a9a9a" stroke-width="1"/>
<text x="257.9" y="555.4000000000001" font-size="9.2" fill="#222" font-weight="normal" font-style="normal" text-anchor="end" stroke="#222" stroke-width="0.18">-30</text>
<line x1="265.6" y1="551.7" x2="267.6" y2="551.7" stroke="#9a9a9a" stroke-width="1"/>
<text x="257.9" y="572.9000000000001" font-size="9.2" fill="#222" font-weight="normal" font-style="normal" text-anchor="end" stroke="#222" stroke-width="0.18">-35</text>
<line x1="265.6" y1="569.2" x2="267.6" y2="569.2" stroke="#9a9a9a" stroke-width="1"/>
<text x="257.9" y="590.4000000000001" font-size="9.2" fill="#222" font-weight="normal" font-style="normal" text-anchor="end" stroke="#222" stroke-width="0.18">-40</text>
<line x1="265.6" y1="447.5" x2="458" y2="447.5" stroke="#d0d0d0" stroke-width="1"/>
<rect x="271.5" y="448.0" width="47" height="64.5" fill="#dcf2ee"/><rect x="316" y="448.0" width="37" height="100.5" fill="#dcf2ee"/>
<rect x="369.5" y="448.0" width="45" height="72.5" fill="#f9dce6"/>
<rect x="412" y="448.0" width="37" height="119.5" fill="#f9dce6"/>
<rect x="276.2" y="447.5" width="33" height="61.69999999999999" fill="url(#hb)"/>
<rect x="318.3" y="447.5" width="32.3" height="98.20000000000005" fill="#0d62c4"/><rect x="318.3" y="447.5" width="1.8" height="98.20000000000005" fill="#3a48b0"/>
<rect x="372.8" y="447.5" width="33.2" height="69.0" fill="url(#hr)"/>
<rect x="414.4" y="447.5" width="32.6" height="117.0" fill="#c00000"/><rect x="414.4" y="447.5" width="1.8" height="117.0" fill="#5a2010"/><rect x="414.4" y="563" width="32.6" height="1.5" fill="#7a1a10"/>
<path d="M291.4 447.5 V435.2 H388.8 V447.5" fill="none" stroke="#000" stroke-width="2.3" stroke-dasharray="4.5,2"/>
<line x1="339" y1="435.2" x2="339" y2="431" stroke="#000" stroke-width="1.5"/>
<path d="M334.4 545.7 V571.8 H432.7 V564.5" fill="none" stroke="#000" stroke-width="2.3" stroke-dasharray="4.5,2"/>
<line x1="382.4" y1="571.8" x2="382.4" y2="575.5" stroke="#000" stroke-width="1.5"/>
<text x="286" y="425.3" font-size="7.4" fill="#111" font-weight="normal" font-style="italic" text-anchor="start" textLength="135" lengthAdjust="spacingAndGlyphs" stroke="#111" stroke-width="0.12">Con posiciones fiscales iniciales promedio</text>
<text x="333" y="583.2" font-size="7.4" fill="#111" font-weight="normal" font-style="italic" text-anchor="start" textLength="126" lengthAdjust="spacingAndGlyphs" stroke="#111" stroke-width="0.12">Con posiciones fiscales iniciales débiles</text>
<text x="313.6" y="600.8" font-size="9" fill="#222" font-weight="normal" font-style="normal" text-anchor="middle" textLength="88.7" lengthAdjust="spacingAndGlyphs" >Economías avanzadas</text>
<text x="411" y="601" font-size="9" fill="#222" font-weight="normal" font-style="normal" text-anchor="middle" >Economías de</text>
<text x="411" y="612" font-size="9" fill="#222" font-weight="normal" font-style="normal" text-anchor="middle" >mercados emergentes</text>
<text x="5" y="625.2" font-size="7" fill="#222" font-weight="normal" font-style="normal" text-anchor="start" textLength="466" lengthAdjust="spacingAndGlyphs" stroke="#222" stroke-width="0.05" letter-spacing="0.15">Fuentes: Abbas <tspan font-style="italic">et al</tspan> 2010; Banco de Pagos Internacionales; Dealogic; FMI, <tspan font-style="italic">International Financial Statistics</tspan>; FMI, Formularios Estandarizados de Declaración de</text>
<text x="5" y="634.2" font-size="7" fill="#222" font-weight="normal" font-style="normal" text-anchor="start" textLength="458" lengthAdjust="spacingAndGlyphs" stroke="#222" stroke-width="0.05" letter-spacing="0.15">Datos; FMI, <tspan font-style="italic">Perspectivas de la economía mundial</tspan>; Organización para la Cooperación y el Desarrollo Económicos, y estimaciones del personal técnico del FMI.</text>
<text x="5" y="642.2" font-size="7" fill="#222" font-weight="normal" font-style="normal" text-anchor="start" textLength="455" lengthAdjust="spacingAndGlyphs" stroke="#222" stroke-width="0.05" letter-spacing="0.15">Nota: <tspan font-size="4.5" dy="-2">1</tspan><tspan dy="2">Las pérdidas de PIB y el gasto público se miden como variaciones acumuladas en un lapso de cinco años a partir de la crisis financiera.</tspan></text>
<text x="19.9" y="671.1" font-size="12" fill="#111" font-weight="bold" font-style="normal" text-anchor="start" textLength="387" lengthAdjust="spacingAndGlyphs" word-spacing="-1.3">Las intervenciones fiscales focalizadas pueden aliviar el impacto</text>
<text x="19.9" y="685.8" font-size="12" fill="#111" font-weight="bold" font-style="normal" text-anchor="start" textLength="318.6" lengthAdjust="spacingAndGlyphs" word-spacing="-1.3">recesivo de un desapalancamiento del sector privado</text>
<text x="15.4" y="705.8" font-size="9.1" fill="#1a1a1a" font-weight="bold" font-style="normal" text-anchor="start" textLength="332" lengthAdjust="spacingAndGlyphs" word-spacing="1.2">5. Aumento acumulado del producto en relación con un escenario de inacción</text>
<text x="15.4" y="716.5" font-size="8.3" fill="#111" font-weight="normal" font-style="italic" text-anchor="start" textLength="47" lengthAdjust="spacingAndGlyphs" >(Porcentaje)</text>
<line x1="21.9" y1="731.7" x2="450.4" y2="731.7" stroke="#acacac" stroke-width="1"/>
<line x1="450.4" y1="731.7" x2="450.4" y2="873.5" stroke="#9c9c9c" stroke-width="2"/>
<line x1="21.9" y1="873.5" x2="450.4" y2="873.5" stroke="#8e8e8e" stroke-width="1.1"/>
<line x1="21.9" y1="731.7" x2="21.9" y2="873.5" stroke="#8e8e8e" stroke-width="1.2"/>
<text x="14.5" y="736.1" font-size="9.2" fill="#222" font-weight="normal" font-style="normal" text-anchor="end" stroke="#222" stroke-width="0.18">5</text>
<text x="14.5" y="756.2" font-size="9.2" fill="#222" font-weight="normal" font-style="normal" text-anchor="end" stroke="#222" stroke-width="0.18">4</text>
<line x1="21.9" y1="752.8000000000001" x2="23.9" y2="752.8000000000001" stroke="#9a9a9a" stroke-width="1"/>
<text x="14.5" y="776.3000000000001" font-size="9.2" fill="#222" font-weight="normal" font-style="normal" text-anchor="end" stroke="#222" stroke-width="0.18">3</text>
<line x1="21.9" y1="772.9000000000001" x2="23.9" y2="772.9000000000001" stroke="#9a9a9a" stroke-width="1"/>
<text x="14.5" y="796.4" font-size="9.2" fill="#222" font-weight="normal" font-style="normal" text-anchor="end" stroke="#222" stroke-width="0.18">2</text>
<line x1="21.9" y1="793.0" x2="23.9" y2="793.0" stroke="#9a9a9a" stroke-width="1"/>
<text x="14.5" y="816.5" font-size="9.2" fill="#222" font-weight="normal" font-style="normal" text-anchor="end" stroke="#222" stroke-width="0.18">1</text>
<line x1="21.9" y1="813.1" x2="23.9" y2="813.1" stroke="#9a9a9a" stroke-width="1"/>
<text x="14.5" y="836.6" font-size="9.2" fill="#222" font-weight="normal" font-style="normal" text-anchor="end" stroke="#222" stroke-width="0.18">0</text>
<line x1="21.9" y1="833.2" x2="23.9" y2="833.2" stroke="#9a9a9a" stroke-width="1"/>
<text x="14.5" y="856.7" font-size="9.2" fill="#222" font-weight="normal" font-style="normal" text-anchor="end" stroke="#222" stroke-width="0.18">-1</text>
<line x1="21.9" y1="853.3000000000001" x2="23.9" y2="853.3000000000001" stroke="#9a9a9a" stroke-width="1"/>
<text x="14.5" y="876.8000000000001" font-size="9.2" fill="#222" font-weight="normal" font-style="normal" text-anchor="end" stroke="#222" stroke-width="0.18">-2</text>
<rect x="48" y="744.3" width="46.6" height="89" fill="#f9dce6"/><rect x="263.5" y="755" width="45" height="78.5" fill="#f9dce6"/><rect x="303" y="833.5" width="43" height="32" fill="#dcf2ee"/><rect x="89" y="809" width="40" height="4.5" fill="#dcf2ee"/>
<rect x="51" y="749.2" width="38.3" height="84.0" fill="#c00000"/>
<rect x="89.3" y="813.1" width="39.0" height="20.1" fill="#0f66c2"/>
<rect x="128.3" y="811.1" width="39.0" height="22.1" fill="#ffc000"/>
<rect x="167.3" y="811.1" width="39.1" height="22.1" fill="#548235"/>
<rect x="266" y="759.6" width="39.1" height="73.6" fill="#c00000"/>
<rect x="305.1" y="833.2" width="39.1" height="30.6" fill="#0f66c2"/>
<rect x="344.2" y="824.0" width="39.1" height="9.2" fill="#ffc000"/>
<rect x="383.3" y="791.4" width="38.1" height="41.8" fill="#548235"/>
<rect x="51" y="749.2" width="4.7" height="84" fill="#9a1608"/><rect x="51" y="749.2" width="38.3" height="2.2" fill="#6a1e0a"/><rect x="88" y="749.2" width="1.5" height="84" fill="#5a2a0a"/>
<rect x="266" y="759.6" width="5.8" height="73.6" fill="#a01608"/><rect x="304" y="759.6" width="1.2" height="73.6" fill="#4a3010"/>
<rect x="89.3" y="813" width="5.5" height="20" fill="#3a58c0"/><rect x="305.1" y="833.5" width="3" height="30.3" fill="#2a60c8"/>
<line x1="21.9" y1="833.2" x2="450.4" y2="833.2" stroke="#7f7f7f" stroke-width="1.3"/>
<line x1="236.2" y1="830.5" x2="236.2" y2="833" stroke="#7f7f7f" stroke-width="1"/>
<rect x="42.2" y="837.7" width="4.3" height="4.4" fill="#8b1a0a"/>
<text x="46.9" y="842.8000000000001" font-size="8.8" fill="#222" font-weight="normal" font-style="normal" text-anchor="start" textLength="106.3" lengthAdjust="spacingAndGlyphs" stroke="#222" stroke-width="0.15">Intervenciones focalizadas</text>
<rect x="42.2" y="847.9" width="4.3" height="4.4" fill="#1f5fc8"/>
<text x="46.9" y="853.0" font-size="8.8" fill="#222" font-weight="normal" font-style="normal" text-anchor="start" textLength="71" lengthAdjust="spacingAndGlyphs" stroke="#222" stroke-width="0.15">Consumo público</text>
<rect x="42.2" y="857.8000000000001" width="4.3" height="4.4" fill="#ffc000"/>
<text x="46.9" y="862.9000000000001" font-size="8.8" fill="#222" font-weight="normal" font-style="normal" text-anchor="start" textLength="139.7" lengthAdjust="spacingAndGlyphs" stroke="#222" stroke-width="0.15">Inversión pública (bajo rendimiento)</text>
<rect x="42.2" y="867.6" width="4.3" height="4.4" fill="#548235"/>
<text x="46.9" y="872.7" font-size="8.8" fill="#222" font-weight="normal" font-style="normal" text-anchor="start" textLength="136" lengthAdjust="spacingAndGlyphs" stroke="#222" stroke-width="0.15">Inversión pública (alto rendimiento)</text>
<text x="128" y="889.2" font-size="8.8" fill="#222" font-weight="normal" font-style="normal" text-anchor="middle" stroke="#222" stroke-width="0.18">Un año</text>
<text x="342.7" y="889.2" font-size="8.8" fill="#222" font-weight="normal" font-style="normal" text-anchor="middle" stroke="#222" stroke-width="0.18">Cinco años</text>
<text x="216.4" y="893.6" font-size="8.6" fill="#111" font-weight="bold" font-style="normal" text-anchor="start" textLength="40.6" lengthAdjust="spacingAndGlyphs" >Horizonte</text>
<text x="6.2" y="916.1" font-size="7.6" fill="#222" font-weight="normal" font-style="normal" text-anchor="start" textLength="245" lengthAdjust="spacingAndGlyphs" stroke="#222" stroke-width="0.05" letter-spacing="0.15">Fuentes: Batini, Melina y Villa, 2016; y cálculos del personal técnico del FMI.</text>
<text x="6.2" y="925" font-size="7.6" fill="#222" font-weight="normal" font-style="normal" text-anchor="start" textLength="447" lengthAdjust="spacingAndGlyphs" stroke="#222" stroke-width="0.05" letter-spacing="0.15">Nota: Las simulaciones se basan en el modelo dinámico de equilibrio general desarrollado por Batini, Melina y Villa, 2016. Las simulaciones</text>
<text x="6.2" y="933.5" font-size="7.6" fill="#222" font-weight="normal" font-style="normal" text-anchor="start" textLength="427" lengthAdjust="spacingAndGlyphs" stroke="#222" stroke-width="0.05" letter-spacing="0.15">presuponen que existe un shock en los precios de las viviendas de magnitud similar al observado en Estados Unidos durante la crisis</text>
<text x="6.2" y="942.2" font-size="7.6" fill="#222" font-weight="normal" font-style="normal" text-anchor="start" textLength="300" lengthAdjust="spacingAndGlyphs" stroke="#222" stroke-width="0.05" letter-spacing="0.15">financiera mundial, lo que impulsa al sector privado a un proceso de desapalancamiento.</text>
</svg></body></html>
